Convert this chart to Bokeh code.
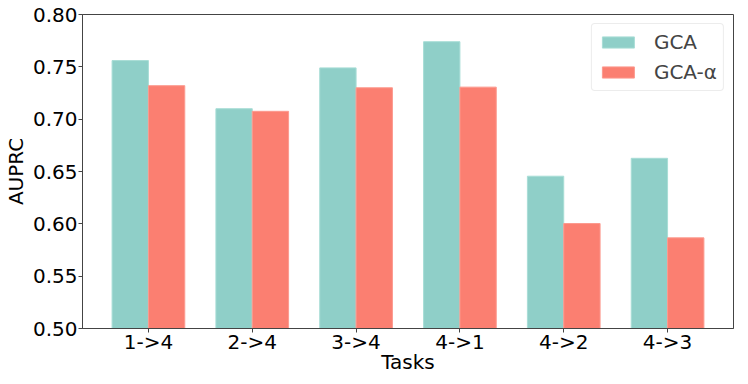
from bokeh.plotting import figure
from bokeh.models import Range1d, FixedTicker, ColumnDataSource, NumeralTickFormatter
from bokeh.transform import dodge
from bokeh.embed import file_html
from bokeh.resources import INLINE

tasks = ["1->4", "2->4", "3->4", "4->1", "4->2", "4->3"]
gca = [0.756, 0.710, 0.749, 0.774, 0.6455, 0.6626]
gca_alpha = [0.732, 0.7075, 0.730, 0.7306, 0.6003, 0.5866]
y_ticks = [0.50, 0.55, 0.60, 0.65, 0.70, 0.75, 0.80]

idx = list(range(len(tasks)))
src = ColumnDataSource(dict(x=idx, gca=gca, gca_alpha=gca_alpha))

FONT = "DejaVu Sans"
FS = "20px"
X0, X1 = -0.635, 5.635
Y0, Y1 = 0.5, 0.8

p = figure(width=740, height=376, x_range=Range1d(X0, X1), y_range=Range1d(Y0, Y1),
           output_backend="svg", toolbar_location=None,
           min_border_left=79, min_border_right=7, min_border_top=14, min_border_bottom=48)

p.vbar(x=dodge("x", -0.175, range=p.x_range), top="gca", bottom=Y0, width=0.35, source=src,
       fill_color="#8fcfc8", line_color="#a8ddd6", line_width=1, legend_label="GCA")
p.vbar(x=dodge("x", 0.175, range=p.x_range), top="gca_alpha", bottom=Y0, width=0.35, source=src,
       fill_color="#fb7f71", line_color="#fc9a8f", line_width=1, legend_label="GCA-α")

p.xgrid.visible = False
p.ygrid.visible = False
p.outline_line_color = "#444444"
p.outline_line_width = 1

p.xaxis.ticker = FixedTicker(ticks=idx)
p.xaxis.major_label_overrides = {i: t for i, t in zip(idx, tasks)}
p.yaxis.ticker = FixedTicker(ticks=y_ticks)
p.yaxis.formatter = NumeralTickFormatter(format="0.00")

for ax in (p.xaxis[0], p.yaxis[0]):
    ax.axis_line_color = "#444444"
    ax.major_tick_line_color = "#444444"
    ax.major_tick_out = 4
    ax.major_tick_in = 0
    ax.minor_tick_out = 0
    ax.minor_tick_in = 0
    ax.major_label_text_font = FONT
    ax.major_label_text_font_size = FS
    ax.major_label_text_color = "black"
    ax.axis_label_text_font = FONT
    ax.axis_label_text_font_size = FS
    ax.axis_label_text_font_style = "normal"
    ax.axis_label_text_color = "black"

p.xaxis.axis_label = "Tasks"
p.yaxis.axis_label = "AUPRC"
p.xaxis.major_label_standoff = -3
p.xaxis.axis_label_standoff = -7
p.yaxis.major_label_standoff = 1
p.yaxis.axis_label_standoff = 2

lg = p.legend[0]
lg.location = "top_right"
lg.margin = 9
lg.padding = 6
lg.spacing = 6
lg.glyph_width = 40
lg.glyph_height = 14
lg.label_standoff = 16
lg.label_text_font = FONT
lg.label_text_font_size = FS
lg.label_height = 20
lg.border_line_color = "#d9d9d9"
lg.border_line_width = 1
lg.background_fill_alpha = 0.8
if "border_radius" in lg.properties():
    lg.border_radius = 4

open("out.html", "w").write(file_html(p, INLINE))
